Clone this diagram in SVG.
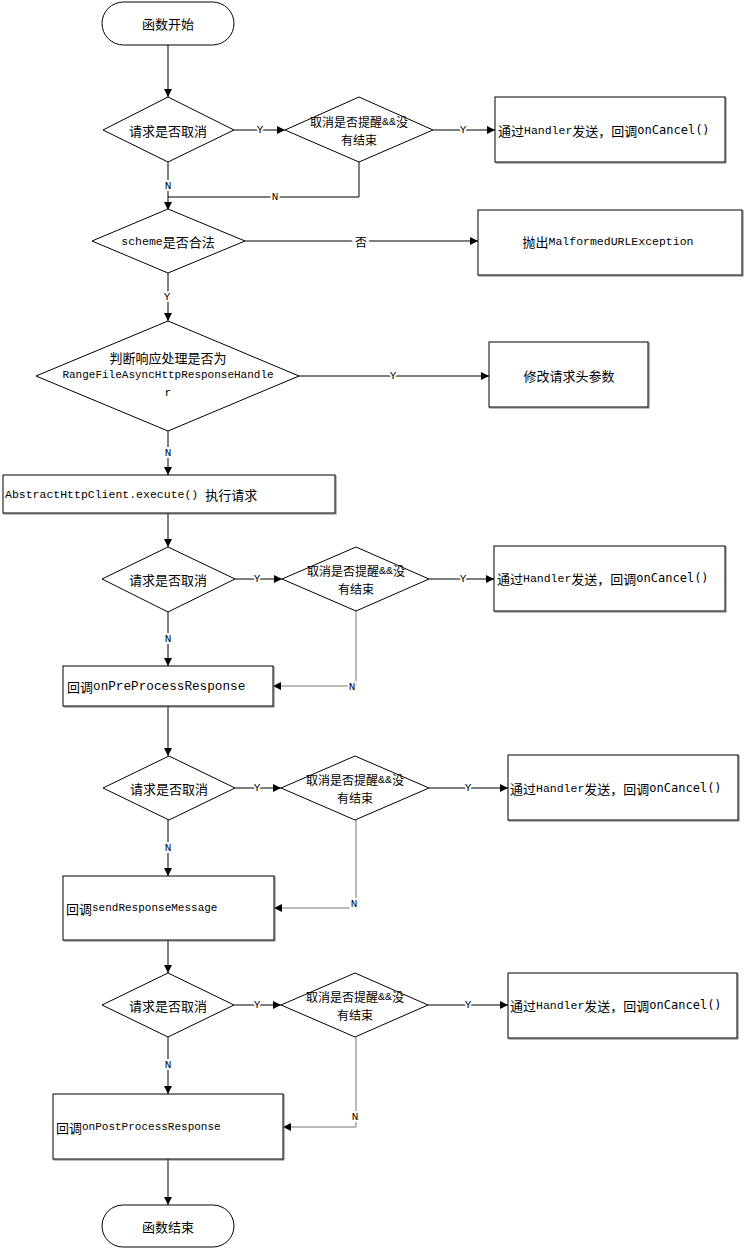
<svg xmlns="http://www.w3.org/2000/svg" width="744" height="1250" viewBox="0 0 744 1250">
<defs>
<style>
.sh{fill:none;stroke:#000;stroke-width:1}
.bx{fill:#fff;stroke:#000;stroke-width:1}
.bs{fill:none;stroke:#777;stroke-width:1}
.t{font-family:"Noto Sans CJK SC","Liberation Mono",sans-serif;font-size:13px;fill:#000;dominant-baseline:central}
.t2{font-size:12px}
.m{text-anchor:middle}
.l{font-family:"Liberation Mono",monospace;font-size:11.5px}
.c{font-family:"DejaVu Sans Mono",monospace;font-size:12px}
.cn{fill:none;stroke:#000;stroke-width:1}
.cg{fill:none;stroke:#777;stroke-width:1}
.lb{font-family:"Liberation Mono",monospace;font-size:11px;fill:#000;text-anchor:middle;dominant-baseline:central;stroke:#fff;stroke-width:4;paint-order:stroke}
</style>
<marker id="a" viewBox="0 0 10 10" refX="10" refY="5" markerWidth="8" markerHeight="8" markerUnits="userSpaceOnUse" orient="auto">
<path d="M0,0L10,5L0,10z" fill="#000"/>
</marker>
</defs>
<rect width="744" height="1250" fill="#fff"/>

<g id="connectors" marker-end="url(#a)">
<path class="cn" d="M168,45V97"/>
<path class="cn" d="M234,130H285"/>
<path class="cn" d="M433,130H495"/>
<path class="cn" d="M168,162V210"/>
<path class="cn" d="M359,162V197H168" marker-end="none"/>
<path class="cn" d="M245,241H478"/>
<path class="cn" d="M168,273V321"/>
<path class="cn" d="M299,376H489"/>
<path class="cn" d="M168,431V475"/>
<path class="cn" d="M168,513V547"/>
<path class="cn" d="M235,579H282"/>
<path class="cn" d="M429,579H494"/>
<path class="cn" d="M168,612V666"/>
<path class="cg" d="M356,611V686H273"/>
<path class="cn" d="M168,706V756"/>
<path class="cn" d="M235,788H281"/>
<path class="cn" d="M429,788H508"/>
<path class="cn" d="M168,820V876"/>
<path class="cg" d="M356,820V908H274"/>
<path class="cn" d="M168,940V973"/>
<path class="cn" d="M234,1005H281"/>
<path class="cn" d="M428,1005H508"/>
<path class="cn" d="M168,1037V1094"/>
<path class="cg" d="M356,1037V1127H283"/>
<path class="cn" d="M168,1159V1205"/>
</g>
<g id="connector-labels">
<text class="lb" x="260" y="130">Y</text>
<text class="lb" x="463" y="130">Y</text>
<text class="lb" x="168" y="186">N</text>
<text class="lb" x="275" y="197">N</text>
<text class="lb" x="361" y="241" style="font-family:'Noto Sans CJK SC',sans-serif;font-size:12px">否</text>
<text class="lb" x="167" y="297">Y</text>
<text class="lb" x="393" y="376">Y</text>
<text class="lb" x="168" y="453">N</text>
<text class="lb" x="257" y="579">Y</text>
<text class="lb" x="463" y="579">Y</text>
<text class="lb" x="168" y="639">N</text>
<text class="lb" x="352" y="687">N</text>
<text class="lb" x="257" y="788">Y</text>
<text class="lb" x="468" y="788">Y</text>
<text class="lb" x="168" y="848">N</text>
<text class="lb" x="354" y="904">N</text>
<text class="lb" x="257" y="1005">Y</text>
<text class="lb" x="468" y="1005">Y</text>
<text class="lb" x="168" y="1065">N</text>
<text class="lb" x="355" y="1117">N</text>
</g>

<g id="start">
<rect class="bx" x="102" y="2" width="132" height="43" rx="21.5"/>
<text class="t m" x="168" y="23">函数开始</text>
</g>
<g id="d1">
<path class="bx" d="M103,130L168,97L234,130L168,162z"/>
<text class="t m" x="168" y="130">请求是否取消</text>
</g>
<g id="d2">
<path class="bx" d="M285,130L359,97L433,130L359,162z"/>
<text class="t t2 m" x="359" y="121">取消是否提醒<tspan class="l">&amp;&amp;</tspan>没</text>
<text class="t t2 m" x="359" y="139">有结束</text>
</g>
<g id="b1">
<rect class="bs" x="496" y="98" width="230" height="65"/>
<rect class="bx" x="495" y="97" width="230" height="65"/>
<text class="t" x="498" y="130">通过<tspan class="l">Handler</tspan>发送，回调<tspan class="c">onCancel()</tspan></text>
</g>
<g id="scheme">
<path class="bx" d="M92,241L168,209L245,241L168,273z"/>
<text class="t m" x="168" y="241"><tspan class="l">scheme</tspan>是否合法</text>
</g>
<g id="malformed">
<rect class="bs" x="479" y="211" width="264" height="65"/>
<rect class="bx" x="478" y="210" width="264" height="65"/>
<text class="t m" x="608" y="241">抛出<tspan class="l">MalformedURLException</tspan></text>
</g>
<g id="range">
<path class="bx" d="M36,376L168,321L299,376L168,431z"/>
<text class="t m" x="168" y="357">判断响应处理是否为</text>
<text class="t m" x="168" y="375"><tspan class="l" style="font-size:11px">RangeFileAsyncHttpResponseHandle</tspan></text>
<text class="t m" x="168" y="392"><tspan class="l">r</tspan></text>
</g>
<g id="modify">
<rect class="bs" x="490" y="343" width="159" height="65"/>
<rect class="bx" x="489" y="342" width="159" height="65"/>
<text class="t m" x="569" y="375">修改请求头参数</text>
</g>
<g id="execute">
<rect class="bs" x="4" y="476" width="332" height="38"/>
<rect class="bx" x="3" y="475" width="332" height="38"/>
<text class="t" x="5" y="494"><tspan class="l">AbstractHttpClient.execute() </tspan>执行请求</text>
</g>
<g id="d3">
<path class="bx" d="M102,579L168,547L235,579L168,612z"/>
<text class="t m" x="168" y="579">请求是否取消</text>
</g>
<g id="d4">
<path class="bx" d="M282,579L356,547L429,579L356,611z"/>
<text class="t t2 m" x="356" y="570">取消是否提醒<tspan class="l">&amp;&amp;</tspan>没</text>
<text class="t t2 m" x="356" y="588">有结束</text>
</g>
<g id="b2">
<rect class="bs" x="495" y="547" width="231" height="65"/>
<rect class="bx" x="494" y="546" width="231" height="65"/>
<text class="t" x="497" y="578">通过<tspan class="l">Handler</tspan>发送，回调<tspan class="c">onCancel()</tspan></text>
</g>
<g id="preprocess">
<rect class="bs" x="64" y="667" width="210" height="40"/>
<rect class="bx" x="63" y="666" width="210" height="40"/>
<text class="t" x="67" y="686">回调<tspan class="l" style="font-size:12.7px">onPreProcessResponse</tspan></text>
</g>
<g id="d5">
<path class="bx" d="M103,788L169,756L235,788L169,820z"/>
<text class="t m" x="169" y="788">请求是否取消</text>
</g>
<g id="d6">
<path class="bx" d="M281,788L355,756L429,788L355,820z"/>
<text class="t t2 m" x="355" y="779">取消是否提醒<tspan class="l">&amp;&amp;</tspan>没</text>
<text class="t t2 m" x="355" y="797">有结束</text>
</g>
<g id="b3">
<rect class="bs" x="509" y="756" width="230" height="65"/>
<rect class="bx" x="508" y="755" width="230" height="65"/>
<text class="t" x="510" y="788">通过<tspan class="l">Handler</tspan>发送，回调<tspan class="c">onCancel()</tspan></text>
</g>
<g id="sendresponse">
<rect class="bs" x="64" y="877" width="211" height="64"/>
<rect class="bx" x="63" y="876" width="211" height="64"/>
<text class="t" x="66" y="908">回调<tspan class="l" style="font-size:11px">sendResponseMessage</tspan></text>
</g>
<g id="d7">
<path class="bx" d="M102,1005L168,973L234,1005L168,1037z"/>
<text class="t m" x="168" y="1005">请求是否取消</text>
</g>
<g id="d8">
<path class="bx" d="M281,1005L355,973L428,1005L355,1037z"/>
<text class="t t2 m" x="355" y="996">取消是否提醒<tspan class="l">&amp;&amp;</tspan>没</text>
<text class="t t2 m" x="355" y="1014">有结束</text>
</g>
<g id="b4">
<rect class="bs" x="509" y="974" width="229" height="65"/>
<rect class="bx" x="508" y="973" width="229" height="65"/>
<text class="t" x="510" y="1005">通过<tspan class="l">Handler</tspan>发送，回调<tspan class="c">onCancel()</tspan></text>
</g>
<g id="postprocess">
<rect class="bs" x="54" y="1095" width="230" height="65"/>
<rect class="bx" x="53" y="1094" width="230" height="65"/>
<text class="t" x="56" y="1127">回调<tspan class="l" style="font-size:11px">onPostProcessResponse</tspan></text>
</g>
<g id="end">
<rect class="bx" x="102" y="1205" width="132" height="42" rx="21"/>
<text class="t m" x="168" y="1226">函数结束</text>
</g>
</svg>
